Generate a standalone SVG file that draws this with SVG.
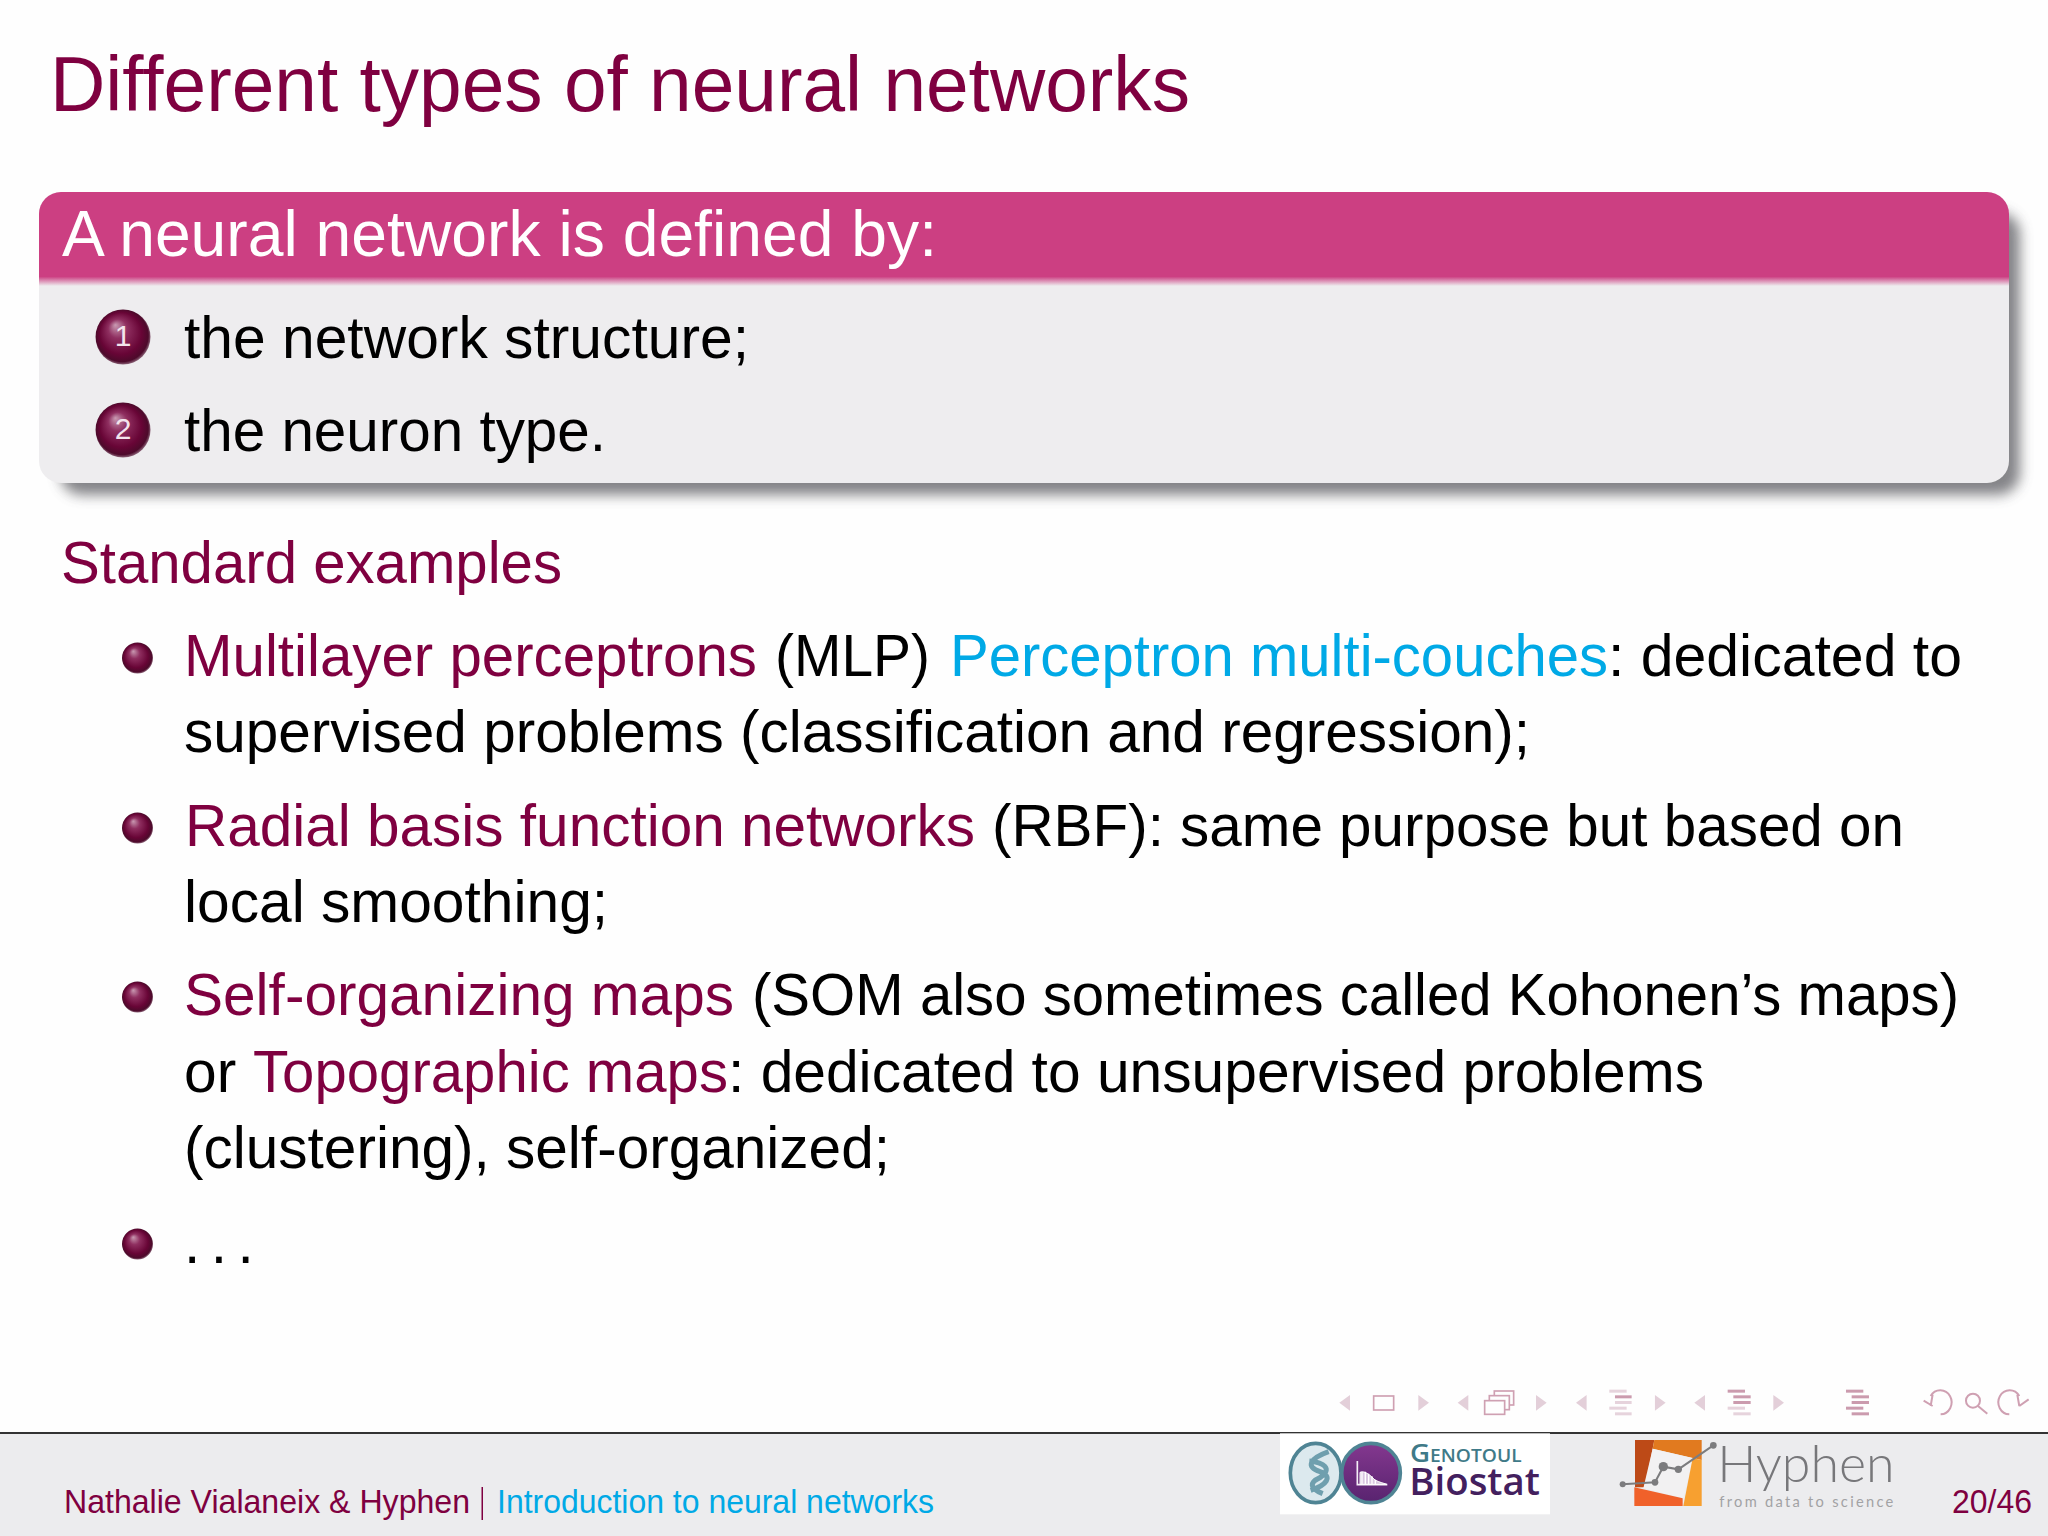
<svg xmlns="http://www.w3.org/2000/svg" width="2048" height="1536" viewBox="0 0 2048 1536">
<style>
text{font-family:"Liberation Sans",Arial,sans-serif;white-space:pre}
.b{font-size:58.7px;fill:#000}
.m{font-size:58.7px;fill:#7f0040}
.c{font-size:58.7px;fill:#00a9e6}
.f{font-size:32.8px}
.n{font-size:30px;fill:#f3e4ec;text-anchor:middle}
.arr{fill:#e3cfd9}
.ic{fill:none;stroke:#cfa0b2;stroke-width:5}
.bd{fill:#cb9bae}
.bl{fill:#e6d3dc}
.rot{fill:none;stroke:#cfa0b2;stroke-width:6}
</style>
<defs>
<radialGradient id="ball" cx="0.5" cy="0.5" r="0.54" fx="0.36" fy="0.28">
<stop offset="0" stop-color="#c99ab2"/><stop offset="0.32" stop-color="#8f2f60"/><stop offset="0.7" stop-color="#680536"/><stop offset="0.88" stop-color="#4d0a2b"/><stop offset="1" stop-color="#b9a4b0"/>
</radialGradient>
<linearGradient id="hdr" x1="0" y1="0" x2="0" y2="1">
<stop offset="0" stop-color="#cc3f82"/><stop offset="0.9" stop-color="#cc3f82"/><stop offset="1" stop-color="#eeedef"/>
</linearGradient>
<linearGradient id="pur" x1="0" y1="0" x2="0" y2="1"><stop offset="0" stop-color="#84388f"/><stop offset="1" stop-color="#58236f"/></linearGradient>
<filter id="blur" x="-5%" y="-20%" width="110%" height="140%"><feGaussianBlur stdDeviation="6.5"/></filter>
<clipPath id="hclip"><rect x="39" y="192" width="1970" height="291" rx="22"/></clipPath>
<g id="arrL"><path class="arr" d="M60 45V92L28 68Z"/></g>
<g id="arrR"><path class="arr" d="M0 45V92L32 68Z"/></g>
</defs>
<rect id="background" width="2048" height="1536" fill="#fefefe"/>
<g id="title"><text x="50" y="111" font-size="78" fill="#7f0040" textLength="1140" lengthAdjust="spacingAndGlyphs">Different types of neural networks</text></g>
<g id="block">
<rect x="60" y="212" width="1960" height="283" rx="22" fill="#55555a" opacity="0.72" filter="url(#blur)"/>
<rect x="39" y="192" width="1970" height="291" rx="22" fill="#eeedef"/>
<rect x="39" y="192" width="1970" height="94" fill="url(#hdr)" clip-path="url(#hclip)"/>
<text x="62" y="256" font-size="65" fill="#fff" textLength="875" lengthAdjust="spacingAndGlyphs">A neural network is defined by:</text>
<g id="item1"><circle cx="123" cy="337" r="27.5" fill="url(#ball)"/><text class="n" x="123" y="346">1</text>
<text class="b" x="184" y="358" textLength="565" lengthAdjust="spacingAndGlyphs">the network structure;</text></g>
<g id="item2"><circle cx="123" cy="430" r="27.5" fill="url(#ball)"/><text class="n" x="123" y="439">2</text>
<text class="b" x="184" y="451" textLength="422" lengthAdjust="spacingAndGlyphs">the neuron type.</text></g>
</g>
<g id="examples">
<text class="m" x="61" y="583" textLength="501" lengthAdjust="spacingAndGlyphs">Standard examples</text>
<g id="mlp"><circle cx="137.5" cy="658" r="15.5" fill="url(#ball)"/>
<text class="m" x="184" y="676" textLength="573" lengthAdjust="spacingAndGlyphs">Multilayer perceptrons</text>
<text class="b" x="775" y="676" textLength="155" lengthAdjust="spacingAndGlyphs">(MLP)</text>
<text class="c" x="950" y="676" textLength="658" lengthAdjust="spacingAndGlyphs">Perceptron multi-couches</text>
<text class="b" x="1608" y="676" textLength="354" lengthAdjust="spacingAndGlyphs">: dedicated to</text>
<text class="b" x="184" y="752" textLength="1346" lengthAdjust="spacingAndGlyphs">supervised problems (classification and regression);</text></g>
<g id="rbf"><circle cx="137.5" cy="828" r="15.5" fill="url(#ball)"/>
<text class="m" x="185" y="846" textLength="790" lengthAdjust="spacingAndGlyphs">Radial basis function networks</text>
<text class="b" x="992" y="846" textLength="912" lengthAdjust="spacingAndGlyphs">(RBF): same purpose but based on</text>
<text class="b" x="184" y="922">local smoothing;</text></g>
<g id="som"><circle cx="137.5" cy="997" r="15.5" fill="url(#ball)"/>
<text class="m" x="184" y="1015" textLength="550" lengthAdjust="spacingAndGlyphs">Self-organizing maps</text>
<text class="b" x="752" y="1015" textLength="1207" lengthAdjust="spacingAndGlyphs">(SOM also sometimes called Kohonen’s maps)</text>
<text class="b" x="184" y="1092">or</text>
<text class="m" x="253" y="1092" textLength="475" lengthAdjust="spacingAndGlyphs">Topographic maps</text>
<text class="b" x="728" y="1092" textLength="976" lengthAdjust="spacingAndGlyphs">: dedicated to unsupervised problems</text>
<text class="b" x="184" y="1168" textLength="706" lengthAdjust="spacingAndGlyphs">(clustering), self-organized;</text></g>
<g id="dots"><circle cx="137.5" cy="1244" r="15.5" fill="url(#ball)"/>
<text class="b" x="184" y="1263" letter-spacing="10.5">...</text></g>
</g>
<g id="footer">
<rect y="1433" width="2048" height="103" fill="#ececee"/>
<rect y="1432" width="2048" height="2" fill="#333"/>
<text class="f" x="64" y="1513" fill="#7f0040" textLength="406" lengthAdjust="spacingAndGlyphs">Nathalie Vialaneix &amp; Hyphen</text>
<rect x="481.5" y="1487" width="1.5" height="33" fill="#7f0040"/>
<text class="f" x="497" y="1513" fill="#00a9e6" textLength="437" lengthAdjust="spacingAndGlyphs">Introduction to neural networks</text>
<text class="f" x="1952" y="1513" fill="#7f0040" textLength="80" lengthAdjust="spacingAndGlyphs">20/46</text>
</g>
<g id="nav1" transform="translate(1330 1380) scale(.3333)">
<use href="#arrL"/>
<rect class="ic" x="131" y="48" width="60" height="42"/>
<use href="#arrR" x="265"/>
<use href="#arrL" x="355"/>
<g class="ic"><rect x="493" y="33" width="58" height="42"/><rect x="478" y="47" width="60" height="42" fill="#fefefe"/><rect x="464" y="62" width="60" height="41" fill="#fefefe"/></g>
<use href="#arrR" x="618"/>
<use href="#arrL" x="710"/>
<rect class="bl" x="838" y="29" width="52" height="9"/><rect class="bd" x="855" y="46" width="50" height="9"/><rect class="bl" x="855" y="63" width="50" height="9"/><rect class="bl" x="838" y="80" width="52" height="9"/><rect class="bl" x="855" y="97" width="50" height="9"/>
<use href="#arrR" x="975"/>
</g>
<g id="nav2" transform="translate(1690 1380) scale(.3333)">
<use href="#arrL" x="-15"/>
<rect class="bd" x="113" y="29" width="52" height="9"/><rect class="bd" x="130" y="46" width="52" height="9"/><rect class="bd" x="130" y="63" width="52" height="9"/><rect class="bl" x="113" y="80" width="52" height="9"/><rect class="bl" x="130" y="97" width="52" height="9"/>
<use href="#arrR" x="250"/>
<rect class="bd" x="468" y="29" width="52" height="9"/><rect class="bd" x="485" y="46" width="52" height="9"/><rect class="bd" x="485" y="63" width="52" height="9"/><rect class="bd" x="468" y="80" width="52" height="9"/><rect class="bd" x="485" y="97" width="52" height="9"/>
<path class="rot" d="M722 48A34 36 0 1 1 752 103M701 62L728 78M728 44L722 78"/>
<circle class="rot" cx="849" cy="62" r="21"/><path class="rot" d="M864 78L892 101"/>
<path class="rot" d="M988 48A34 36 0 1 0 958 103M1016 58L988 78M982 44L988 78"/>
</g>
<g id="logo-biostat" transform="translate(1270 1425) scale(.3333)">
<rect x="30" y="25" width="810" height="243" fill="#fff"/>
<ellipse cx="137" cy="144" rx="76" ry="89" fill="#dce9ee" stroke="#4f8494" stroke-width="11"/>
<path d="M176 80C120 100 105 125 150 140C190 155 170 180 122 196M118 108C160 112 190 130 150 158C118 172 118 190 158 206" fill="none" stroke="#6f9fae" stroke-width="15"/>
<ellipse cx="303" cy="144" rx="88" ry="89" fill="url(#pur)" stroke="#4f8494" stroke-width="11"/>
<path d="M262 108V179H352" fill="none" stroke="#f4eef6" stroke-width="5"/>
<path d="M270 178V142C285 136 300 150 315 165C328 172 340 174 350 178Z" fill="#d9c6e0" stroke="#fff" stroke-width="3"/>
<path d="M276 142L276 178M286 140L286 178M296 146L296 178M306 154L306 178M316 164L316 178" stroke="#fff" stroke-width="4"/>
<text x="420" y="110" font-size="78" fill="#3f7a88" style="font-family:'Open Sans',sans-serif;font-variant:small-caps" font-weight="600" textLength="335" lengthAdjust="spacingAndGlyphs">Genotoul</text>
<text x="418" y="211" font-size="116" fill="#43205e" style="font-family:'Open Sans',sans-serif" font-weight="600" textLength="392" lengthAdjust="spacingAndGlyphs">Biostat</text>
</g>
<g id="logo-hyphen" transform="translate(1610 1430) scale(.3333)">
<path d="M75 30H133L105 172L75 172Z" fill="#bd4a17"/>
<path d="M133 30H275V90L128 56Z" fill="#e17a1f"/>
<path d="M128 56L250 85L220 205L100 175Z" fill="#f2f1f2"/>
<path d="M275 90V228H220L248 85Z" fill="#f7a030"/>
<path d="M73 172L218 205V228H73Z" fill="#f0612a"/>
<path d="M38 163L135 157L160 110L205 118L310 46" fill="none" stroke="#7c7c7e" stroke-width="6"/>
<g fill="#7c7c7e"><circle cx="38" cy="163" r="9"/><circle cx="135" cy="157" r="10"/><circle cx="160" cy="110" r="14"/><circle cx="205" cy="118" r="11"/><circle cx="310" cy="46" r="10"/></g>
<text x="322" y="157" font-size="155" fill="#77777a" style="font-family:Lato,sans-serif" font-weight="300" textLength="532" lengthAdjust="spacingAndGlyphs">Hyphen</text>
<text x="328" y="230" font-size="44" fill="#a2a2a4" style="font-family:Lato,sans-serif" textLength="522">from data to science</text>
</g>
</svg>
